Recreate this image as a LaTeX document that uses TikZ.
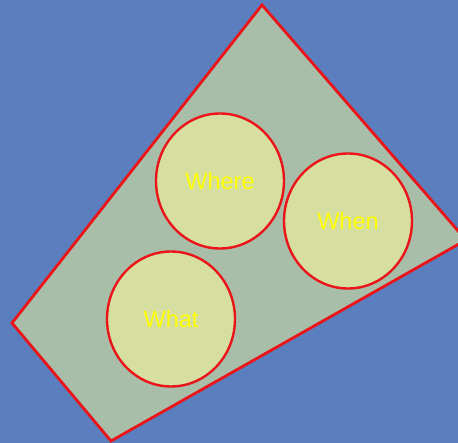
\documentclass[tikz,border=0pt]{standalone}
\usepackage{fontspec}
\setmainfont{Liberation Sans}
\usetikzlibrary{calc,shapes.geometric}

\definecolor{slideblue}{RGB}{91,127,190}
\definecolor{boardgreen}{RGB}{168,190,168}
\definecolor{discfill}{RGB}{214,222,160}
\definecolor{rimred}{RGB}{235,20,25}
\definecolor{wordyellow}{RGB}{255,255,0}

\tikzset{
  board/.style={draw=rimred,fill=boardgreen,line width=2.8pt,line join=miter},
  disc/.style={draw=rimred,fill=discfill,line width=2.4pt,ellipse,
    minimum width=128pt,minimum height=135pt,inner sep=0pt,
    text=wordyellow,font=\fontsize{23.5}{25}\selectfont}
}

\begin{document}
\begin{tikzpicture}[x=1pt,y=-1pt]
\useasboundingbox (0,0) rectangle (458,443);
\clip (0,0) rectangle (458,443);
\fill[slideblue] (0,0) rectangle (458,443);
% the tilted board
\coordinate (T) at (262,5);
  \coordinate (R) at (466,240);
  \coordinate (B) at (111,441);
  \coordinate (L) at (12,323);
  \draw[board] (T) -- (R) -- (B) -- (L) -- cycle;
% the three discs
  \node[disc] (where) at (220,181) {Where};
  \node[disc] (when) at ($(where)+(128,40)$) {When};
  \node[disc] (what) at ($(where)+(-49,138)$) {What};
\end{tikzpicture}
\end{document}
